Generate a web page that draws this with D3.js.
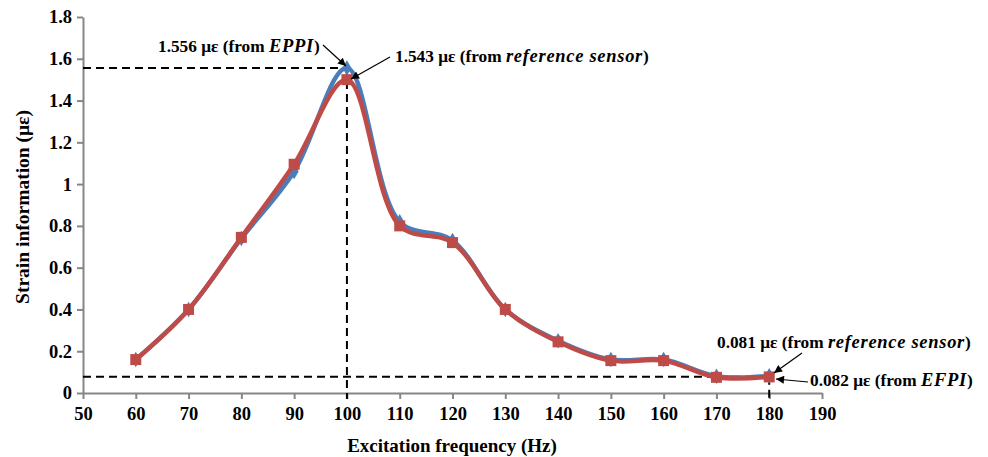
<!DOCTYPE html>
<html><head><meta charset="utf-8">
<script src="https://cdn.jsdelivr.net/npm/d3@7"></script>
<style>body{margin:0;background:#fff}svg{display:block}text{font-family:"Liberation Serif","Times New Roman","DejaVu Serif",serif;font-weight:bold}</style>
</head><body><svg id="c" width="988" height="457"></svg>
<script>
const freqs = [60,70,80,90,100,110,120,130,140,150,160,170,180];
const efpi = [0.16,0.40,0.74,1.06,1.556,0.82,0.73,0.40,0.25,0.16,0.16,0.08,0.082];
const refSensor = [0.16,0.40,0.745,1.095,1.50,0.80,0.72,0.40,0.245,0.155,0.155,0.075,0.077];
const xTicks = [50,60,70,80,90,100,110,120,130,140,150,160,170,180,190];
const yTicks = [0,0.2,0.4,0.6,0.8,1,1.2,1.4,1.6,1.8];

const svg = d3.select("#c");
const x = d3.scaleLinear().domain([50,190]).range([83,822]);
const y = d3.scaleLinear().domain([0,1.8]).range([393,17]);
const grey = "#868686";
const FF = '"Liberation Serif","Times New Roman",serif';

// axes
const ax = svg.append("g").attr("transform","translate(0,393)")
  .call(d3.axisBottom(x).tickValues(xTicks).tickSize(6).tickSizeOuter(0).tickPadding(4).tickFormat(d3.format("d")));
const ay = svg.append("g").attr("transform","translate(83,0)")
  .call(d3.axisLeft(y).tickValues(yTicks).tickSize(6).tickSizeOuter(0).tickPadding(5).tickFormat(d=>d===0||d===1?String(d):d3.format(".1f")(d)));
[ax,ay].forEach(g=>{
  g.selectAll("path,line").attr("stroke",grey).attr("stroke-width",2);
  g.selectAll("text").attr("fill","#000").style("font-size","18.5px").style("font-family",FF).style("font-weight","bold");
});
ax.selectAll("text").attr("dy","0.9em");

// axis titles
svg.append("text").attr("x",452).attr("y",452).attr("text-anchor","middle").style("font-size","19px").text("Excitation frequency (Hz)");
svg.append("text").attr("transform","translate(29,207) rotate(-90)").attr("text-anchor","middle").style("font-size","19.5px").text("Strain information (με)");

// dashed guide lines
function dl(x1,y1,x2,y2){svg.append("line").attr("x1",x1).attr("y1",y1).attr("x2",x2).attr("y2",y2)
  .attr("stroke","#000").attr("stroke-width",2).attr("stroke-dasharray","8,5");}
dl(x(50),y(1.556),x(100),y(1.556));
dl(x(100),y(1.556),x(100),399);
dl(x(50),y(0.078),x(180),y(0.078));
dl(x(180),y(0.078),x(180),400);

const line = d3.line().x((d,i)=>x(freqs[i])).y(d=>y(d)).curve(d3.curveCatmullRom.alpha(0.5));
svg.append("path").datum(efpi).attr("d",line).attr("fill","none").attr("stroke","#4a7ebb").attr("stroke-width",4.5);
svg.selectAll(".dm").data(efpi).enter().append("path")
  .attr("d",d3.symbol().type(d3.symbolDiamond).size(70))
  .attr("transform",(d,i)=>`translate(${x(freqs[i])},${y(d)})`).attr("fill","#4a7ebb");
svg.append("path").datum(refSensor).attr("d",line).attr("fill","none").attr("stroke","#be4b48").attr("stroke-width",4.5);
svg.selectAll(".sq").data(refSensor).enter().append("rect")
  .attr("x",(d,i)=>x(freqs[i])-5.5).attr("y",d=>y(d)-5.5).attr("width",11).attr("height",11).attr("fill","#be4b48");

// arrowhead
svg.append("defs").append("marker").attr("id","ah").attr("viewBox","0 0 10 10").attr("refX",10).attr("refY",5)
  .attr("markerWidth",10).attr("markerHeight",8).attr("markerUnits","userSpaceOnUse").attr("orient","auto")
  .append("path").attr("d","M0,0L10,5L0,10z").attr("fill","#000");
function arrow(x1,y1,x2,y2){svg.append("line").attr("x1",x1).attr("y1",y1).attr("x2",x2).attr("y2",y2).attr("stroke","#000").attr("stroke-width",1.2).attr("marker-end","url(#ah)");}

function label(xp,yp,parts){
  const t=svg.append("text").attr("x",xp).attr("y",yp).style("font-size","17.3px");
  parts.forEach(p=>t.append("tspan").style("font-style",p[1]?"italic":"normal")
    .style("font-size",p[1]?"18.5px":"17.3px").style("letter-spacing",p[1]?"0.7px":"0px").text(p[0]));
}
label(158,52,[["1.556 με (from ",0],["EPPI",1],[")",0]]);
arrow(323,45,346,66);
label(395,62,[["1.543 με (from ",0],["reference sensor",1],[")",0]]);
arrow(390,57,351,79);
label(717,348,[["0.081 με (from ",0],["reference sensor",1],[")",0]]);
arrow(802,353,774,373);
label(810,386,[["0.082 με (from ",0],["EFPI",1],[")",0]]);
arrow(808,382,776,379);
</script></body></html>
